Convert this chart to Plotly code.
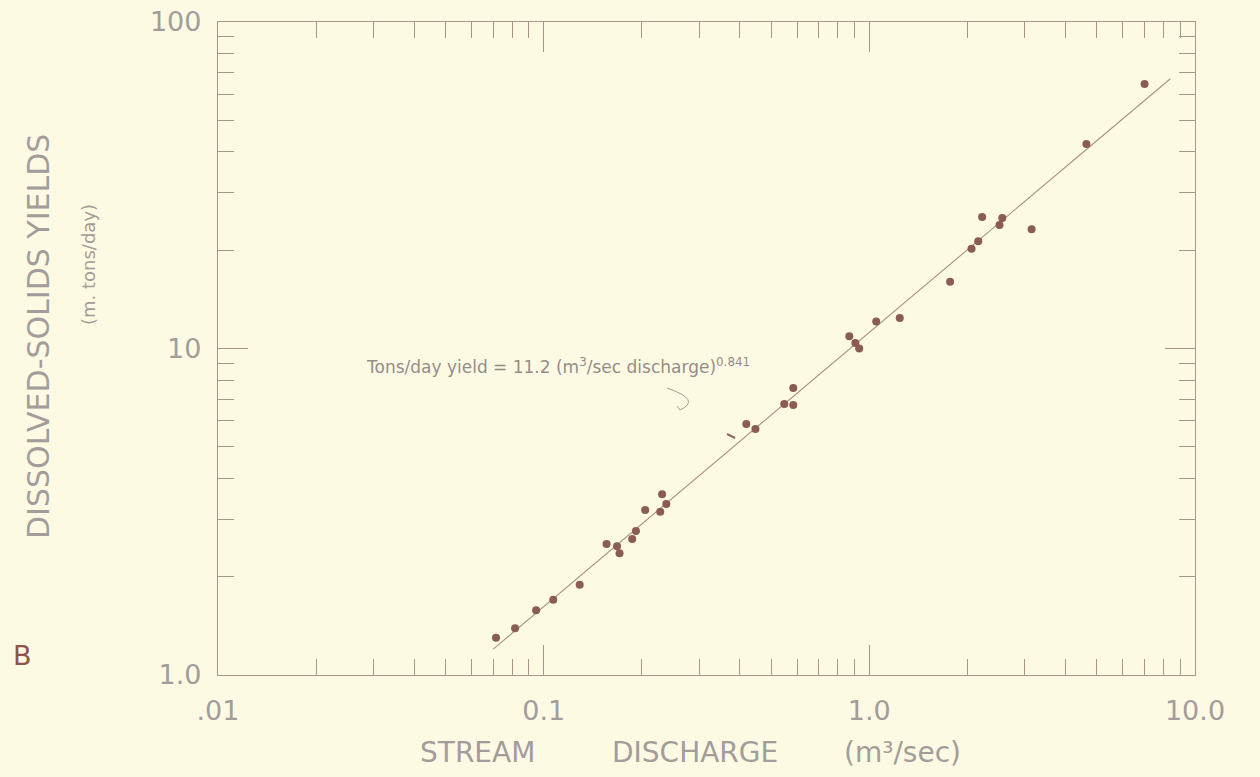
import plotly.graph_objects as go

# ---- data ----
discharge = [0.0714, 0.0817, 0.0948, 0.107, 0.129, 0.156, 0.168, 0.171, 0.187, 0.192,
             0.205, 0.228, 0.238, 0.231, 0.419, 0.447, 0.548, 0.584, 0.584, 0.868,
             0.906, 0.931, 1.05, 1.24, 1.77, 2.06, 2.16, 2.22, 2.51, 2.56, 3.15, 4.64, 7.0]
yields = [1.30, 1.39, 1.58, 1.70, 1.89, 2.52, 2.48, 2.36, 2.61, 2.76,
          3.20, 3.16, 3.34, 3.58, 5.87, 5.67, 6.76, 6.71, 7.57, 10.9,
          10.4, 10.0, 12.1, 12.4, 16.0, 20.2, 21.3, 25.3, 23.9, 25.1, 23.2, 42.3, 64.6]

fit_x = [0.07, 8.4]
fit_y = [1.2, 67.0]

x_major = [0.01, 0.1, 1.0, 10.0]
x_major_text = [".01", "0.1", "1.0", "10.0"]
y_major = [1, 10, 100]
y_major_text = ["1.0", "10", "100"]
minor_x = [m * 10.0 ** k for k in (-2, -1, 0) for m in range(2, 10)]
minor_y = [m * 10.0 ** k for k in (0, 1) for m in range(2, 10)]

BG = "#fdfae4"
FRAME = "#a8968c"
TXT = "#a39c9a"
DOT = "#8a5c52"
FONT = "DejaVu Sans"

L, R, T, B = 218, 1195, 22, 675
W, H = R - L, B - T

fig = go.Figure()
fig.add_trace(go.Scatter(x=fit_x, y=fit_y, mode="lines",
                         line=dict(color="#a89082", width=1.1), hoverinfo="skip"))
fig.add_trace(go.Scatter(x=discharge, y=yields, mode="markers",
                         marker=dict(color=DOT, size=8, line=dict(width=0))))

axis_common = dict(showline=True, linecolor=FRAME, linewidth=1.3, mirror="ticks",
                   ticks="inside", tickcolor=FRAME, tickwidth=1.2, ticklen=30,
                   showgrid=False, zeroline=False, automargin=False,
                   tickfont=dict(family=FONT, size=27, color=TXT))

fig.update_xaxes(type="log", range=[-2, 1], tickmode="array", tickvals=x_major,
                 ticktext=x_major_text, ticklabelstandoff=11,
                 minor=dict(tickmode="array", tickvals=minor_x, ticks="inside",
                            ticklen=16, tickcolor=FRAME, tickwidth=1.2, showgrid=False),
                 **axis_common)
fig.update_yaxes(type="log", range=[0, 2], tickmode="array", tickvals=y_major,
                 ticktext=y_major_text, ticklabelstandoff=10,
                 minor=dict(tickmode="array", tickvals=minor_y, ticks="inside",
                            ticklen=16, tickcolor=FRAME, tickwidth=1.2, showgrid=False),
                 **axis_common)


def px(xp, yp):
    """pixel position in the 1260x777 page -> paper coordinates of the plot area"""
    return (xp - L) / W, (B - yp) / H


ann = [
    dict(text="STREAM", x=477, y=752, size=28, angle=0, color=TXT),
    dict(text="DISCHARGE", x=695, y=752, size=28, angle=0, color=TXT),
    dict(text="(m³/sec)", x=902, y=752, size=28, angle=0, color=TXT),
    dict(text="DISSOLVED-SOLIDS YIELDS", x=38, y=337, size=30, angle=-90, color=TXT),
    dict(text="(m. tons/day)", x=88, y=265, size=18, angle=-90, color=TXT),
    dict(text="B", x=22, y=655, size=27, angle=0, color="#8e5446"),
    dict(text="Tons/day yield = 11.2 (m<sup>3</sup>/sec discharge)<sup>0.841</sup>",
         x=558, y=366, size=17, angle=0, color="#958c88"),
]
for a in ann:
    ax_, ay_ = px(a["x"], a["y"])
    fig.add_annotation(text=a["text"], x=ax_, y=ay_,
                       xref="paper", yref="paper", xanchor="center", yanchor="middle",
                       showarrow=False, textangle=a["angle"],
                       font=dict(family=FONT, size=a["size"], color=a["color"]))

# leader squiggle
p0, c, p2, p3 = px(667, 388), px(702, 400), px(680, 410), px(677, 406)
path = f"M {p0[0]},{p0[1]} Q {c[0]},{c[1]} {p2[0]},{p2[1]} L {p3[0]},{p3[1]}"
fig.add_shape(type="path", path=path, xref="paper", yref="paper",
              line=dict(color="#a89890", width=1))
d0, d1 = px(727, 434), px(735, 438)
fig.add_shape(type="line", x0=d0[0], y0=d0[1], x1=d1[0], y1=d1[1], xref="paper", yref="paper",
              line=dict(color="#8a6a60", width=2))

fig.update_layout(width=1260, height=777, paper_bgcolor=BG, plot_bgcolor=BG,
                  showlegend=False, margin=dict(l=L, r=1260 - R, t=T, b=777 - B))

fig.write_html("out.html", config={"displayModeBar": False},
               post_script="document.body.style.margin='0';document.body.style.background='%s';" % BG)
